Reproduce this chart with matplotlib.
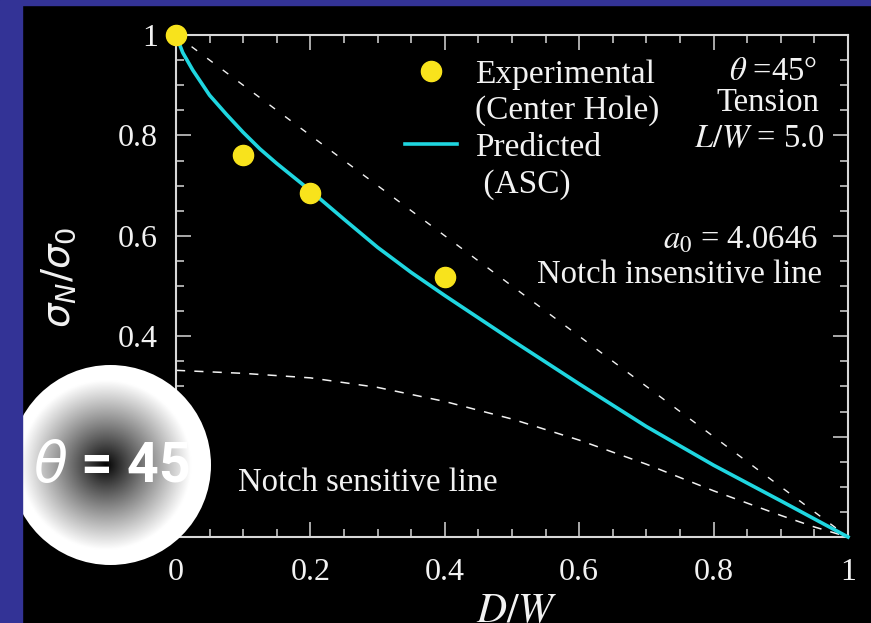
import numpy as np
import matplotlib
matplotlib.use("Agg")
from matplotlib import pyplot as plt
from matplotlib.patches import Rectangle, Circle
from matplotlib.lines import Line2D
from matplotlib.ticker import MultipleLocator

plt.rcParams['font.family'] = ['Liberation Serif', 'DejaVu Serif']
plt.rcParams['mathtext.fontset'] = 'stix'

# experimental points (center hole)
exp_x = [0.0, 0.1, 0.2, 0.4]
exp_y = [1.0, 0.76, 0.685, 0.518]

# predicted (ASC) curve
asc_x = [0.0, 0.01, 0.025, 0.05, 0.075, 0.1, 0.125, 0.15, 0.2, 0.25, 0.3, 0.35, 0.4,
         0.5, 0.6, 0.7, 0.8, 0.9, 1.0]
asc_y = [1.0, 0.965, 0.93, 0.88, 0.842, 0.806, 0.773, 0.744, 0.690, 0.633, 0.577, 0.527, 0.481,
         0.392, 0.305, 0.220, 0.143, 0.072, 0.0]

# notch insensitive line
ins_x = [0.0, 1.0]
ins_y = [1.0, 0.0]

# notch sensitive line
sen_x = [0.0, 0.1, 0.2, 0.3, 0.4, 0.5, 0.6, 0.7, 0.8, 0.9, 0.95, 1.0]
sen_y = [0.332, 0.326, 0.317, 0.298, 0.270, 0.235, 0.193, 0.145, 0.092, 0.043, 0.02, 0.0]

x_ticks = [0, 0.2, 0.4, 0.6, 0.8, 1.0]
x_ticklabels = ["0", "0.2", "0.4", "0.6", "0.8", "1"]
y_ticks = [0, 0.2, 0.4, 0.6, 0.8, 1.0]
y_ticklabels = ["0", "0.2", "0.4", "0.6", "0.8", "1"]

fg = '#f2f2f2'
fig = plt.figure(figsize=(8.71, 6.23), dpi=100, facecolor='black')
# blue frame strips
fig.patches.append(Rectangle((0, 0), 22 / 871, 1, transform=fig.transFigure, color='#333396', zorder=0))
fig.patches.append(Rectangle((0, 1 - 5 / 623), 1, 5 / 623, transform=fig.transFigure, color='#333396', zorder=0))

ax = fig.add_axes([176 / 871, 1 - 537 / 623, 672 / 871, 502 / 623])
ax.set_facecolor('black')

ax.plot(ins_x, ins_y, color=fg, lw=1.0, dashes=(5, 9))
ax.plot(sen_x, sen_y, color=fg, lw=1.1, dashes=(6, 6))
ax.plot(asc_x, asc_y, color='#1fd6e0', lw=2.6, clip_on=False, zorder=3)
ax.plot(exp_x, exp_y, 'o', color='#f8e31c', ms=14.5, clip_on=False, zorder=4)

ax.set_xlim(0, 1)
ax.set_ylim(0, 1)
ax.set_xticks(x_ticks)
ax.set_xticklabels(x_ticklabels)
ax.set_yticks(y_ticks)
ax.set_yticklabels(y_ticklabels)
ax.xaxis.set_minor_locator(MultipleLocator(0.05))
ax.yaxis.set_minor_locator(MultipleLocator(0.05))
ax.tick_params(which='both', direction='in', top=True, right=True, color='#d8d8d8', width=1.1)
ax.tick_params(which='major', length=11, labelsize=23, labelcolor=fg)
ax.tick_params(which='minor', length=6)
ax.tick_params(axis='x', pad=15)
ax.tick_params(axis='y', pad=13)
for s in ax.spines.values():
    s.set_color('#d8d8d8')
    s.set_linewidth(1.5)

ax.set_xlabel(r'$D/W$', fontsize=30, color=fg)
ax.xaxis.set_label_coords(0.507, -0.149)
ax.xaxis.label.set_verticalalignment('center')
ax.set_ylabel(r'$\sigma_N/\sigma_0$', fontsize=28, color=fg, math_fontfamily='dejavusans')
ax.yaxis.set_label_coords(-0.173, 0.518)
ax.yaxis.label.set_verticalalignment('center')

handles = [Line2D([], [], marker='o', ls='none', color='#f8e31c', ms=14.5),
           Line2D([], [], ls='none'),
           Line2D([], [], color='#1fd6e0', lw=2.6),
           Line2D([], [], ls='none')]
labels = ['Experimental', '(Center Hole)', 'Predicted', ' (ASC)']
ax.legend(handles, labels, loc='upper left', bbox_to_anchor=(0.341, 0.952), frameon=False,
          fontsize=24, labelcolor=fg, borderpad=0, borderaxespad=0, handlelength=1.55,
          handletextpad=0.55, labelspacing=0.18, numpoints=1)

tkw = dict(color=fg, fontsize=23.5, ha='right', va='center')
ax.text(0.954, 0.926, r'$\theta$ =45°', **tkw)
ax.text(0.958, 0.866, 'Tension', **tkw)
ax.text(0.966, 0.792, r'$L/W$ = 5.0', **tkw)
ax.text(0.955, 0.592, r'$a_0$ = 4.0646', **tkw)
ax.text(0.961, 0.522, 'Notch insensitive line', **tkw)
ax.text(0.092, 0.108, 'Notch sensitive line', color=fg, fontsize=23.5, ha='left', va='center')

# radial gradient badge
bx = fig.add_axes([10 / 871, 1 - 565 / 623, 201 / 871, 200 / 623])
bx.set_axis_off()
g = np.linspace(-1, 1, 300)
xx, yy = np.meshgrid(g, g)
rr = np.clip(np.hypot(xx + 0.05, yy) / 0.85, 0, 1) ** 0.9
im = bx.imshow(rr, cmap='gray', vmin=0, vmax=1, extent=[-1, 1, -1, 1], aspect='auto')
im.set_clip_path(Circle((0, 0), 1, transform=bx.transData))
bx.set_xlim(-1, 1)
bx.set_ylim(-1, 1)
bx.text(0.01, -0.02, r'$\theta$ = 45', color='white', fontsize=40, fontweight='bold', family='Roboto',
        math_fontfamily='dejavusans', ha='center', va='center')

fig.savefig('out.png', dpi=100, facecolor='black')
